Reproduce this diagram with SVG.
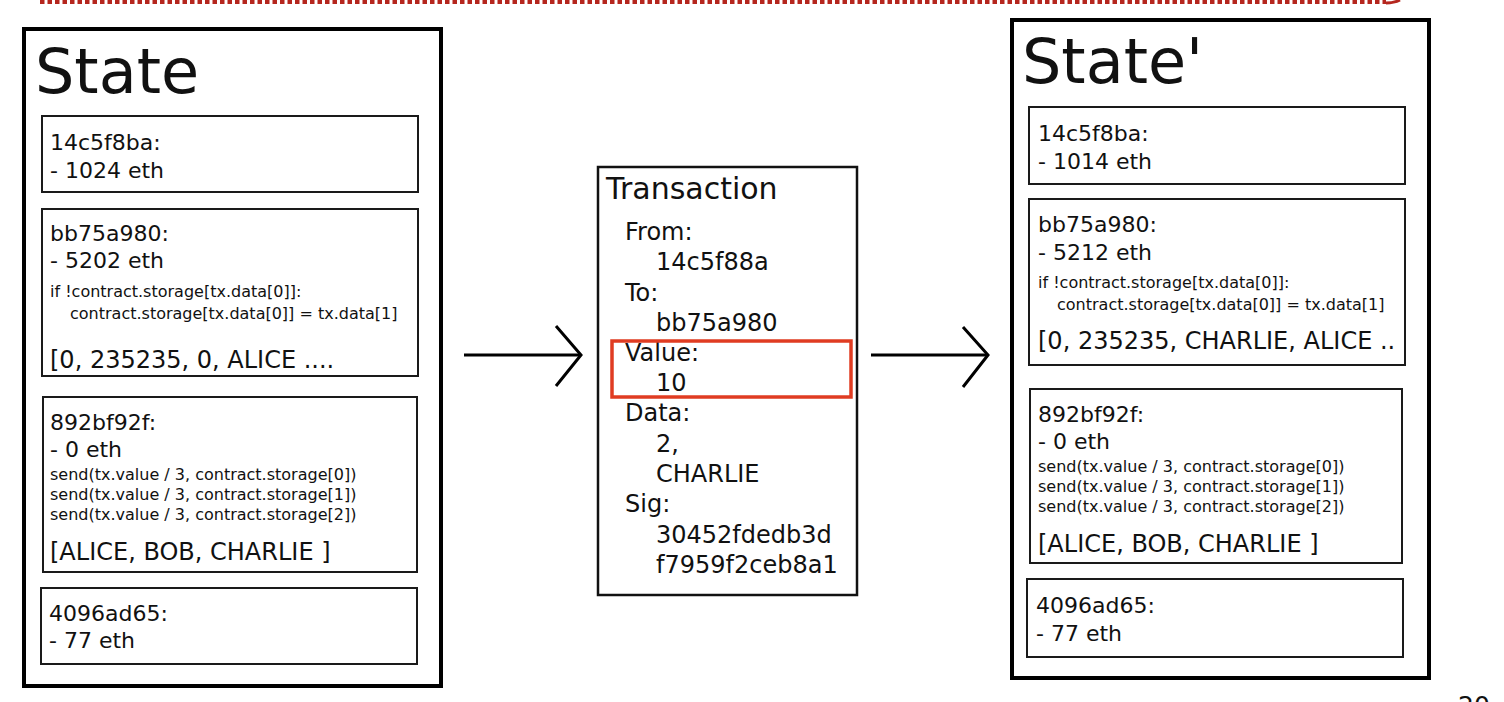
<svg xmlns="http://www.w3.org/2000/svg" width="1504" height="702" viewBox="0 0 1504 702">
<style>
  text { font-family: "DejaVu Sans", "Liberation Sans", sans-serif; fill: #111; }
  .outer { fill: #fff; stroke: #000; stroke-width: 4; }
  .inner { fill: #fff; stroke: #1a1a1a; stroke-width: 2; }
  .title { font-size: 62px; }
  .t22 { font-size: 22px; }
  .t24 { font-size: 24px; }
  .code { font-size: 16px; }
  .tx { font-size: 24px; }
  .conn { fill: none; stroke: #000; stroke-width: 3; }
</style>
<rect x="0" y="0" width="1504" height="702" fill="#fff"/>

<g id="top-rule">
  <line x1="40" y1="2" x2="1386" y2="2" stroke="#b5261e" stroke-width="4" stroke-dasharray="4.5 3"/>
  <path d="M1386 3 Q1394 3 1400 0" fill="none" stroke="#b5261e" stroke-width="3"/>
</g>

<g id="state">
  <rect class="outer" x="24" y="29" width="417" height="657"/>
  <text class="title" x="35" y="93">State</text>
  <g id="state-acct1">
    <rect class="inner" x="42" y="116" width="376" height="76"/>
    <text class="t22" x="50" y="150">14c5f8ba:</text>
    <text class="t22" x="50" y="178">- 1024 eth</text>
  </g>
  <g id="state-acct2">
    <rect class="inner" x="42" y="209" width="376" height="167"/>
    <text class="t22" x="50" y="241">bb75a980:</text>
    <text class="t22" x="50" y="268">- 5202 eth</text>
    <text class="code" x="50" y="297">if !contract.storage[tx.data[0]]:</text>
    <text class="code" x="70" y="319">contract.storage[tx.data[0]] = tx.data[1]</text>
    <text class="t24" x="50" y="368">[0, 235235, 0, ALICE ....</text>
  </g>
  <g id="state-acct3">
    <rect class="inner" x="43" y="397" width="374" height="175"/>
    <text class="t22" x="50" y="430">892bf92f:</text>
    <text class="t22" x="50" y="457">- 0 eth</text>
    <text class="code" x="50" y="480">send(tx.value / 3, contract.storage[0])</text>
    <text class="code" x="50" y="500">send(tx.value / 3, contract.storage[1])</text>
    <text class="code" x="50" y="520">send(tx.value / 3, contract.storage[2])</text>
    <text class="t24" x="50" y="560">[ALICE, BOB, CHARLIE ]</text>
  </g>
  <g id="state-acct4">
    <rect class="inner" x="41" y="588" width="376" height="76"/>
    <text class="t22" x="49" y="621">4096ad65:</text>
    <text class="t22" x="49" y="648">- 77 eth</text>
  </g>
</g>

<g id="transaction">
  <rect x="598" y="167" width="259" height="428" fill="#fff" stroke="#111" stroke-width="2.5"/>
  <text x="606" y="199" style="font-size:30px">Transaction</text>
  <text class="tx" x="625" y="240">From:</text>
  <text class="tx" x="656" y="270">14c5f88a</text>
  <text class="tx" x="625" y="301">To:</text>
  <text class="tx" x="656" y="331">bb75a980</text>
  <text class="tx" x="625" y="361">Value:</text>
  <text class="tx" x="656" y="391">10</text>
  <text class="tx" x="625" y="421">Data:</text>
  <text class="tx" x="656" y="452">2,</text>
  <text class="tx" x="656" y="482">CHARLIE</text>
  <text class="tx" x="625" y="512">Sig:</text>
  <text class="tx" x="656" y="543">30452fdedb3d</text>
  <text class="tx" x="656" y="573">f7959f2ceb8a1</text>
  <rect id="value-highlight" x="612" y="341" width="239" height="56" fill="none" stroke="#e03c22" stroke-width="3.5"/>
</g>

<g id="state-prime">
  <rect class="outer" x="1012" y="20" width="417" height="658"/>
  <text class="title" x="1022" y="83">State'</text>
  <g id="stateprime-acct1">
    <rect class="inner" x="1029" y="107" width="376" height="77"/>
    <text class="t22" x="1038" y="141">14c5f8ba:</text>
    <text class="t22" x="1038" y="169">- 1014 eth</text>
  </g>
  <g id="stateprime-acct2">
    <rect class="inner" x="1029" y="199" width="376" height="166"/>
    <text class="t22" x="1038" y="232">bb75a980:</text>
    <text class="t22" x="1038" y="260">- 5212 eth</text>
    <text class="code" x="1038" y="288">if !contract.storage[tx.data[0]]:</text>
    <text class="code" x="1057" y="310">contract.storage[tx.data[0]] = tx.data[1]</text>
    <text class="t24" x="1038" y="349">[0, 235235, CHARLIE, ALICE ..</text>
  </g>
  <g id="stateprime-acct3">
    <rect class="inner" x="1030" y="389" width="372" height="174"/>
    <text class="t22" x="1038" y="422">892bf92f:</text>
    <text class="t22" x="1038" y="449">- 0 eth</text>
    <text class="code" x="1038" y="472">send(tx.value / 3, contract.storage[0])</text>
    <text class="code" x="1038" y="492">send(tx.value / 3, contract.storage[1])</text>
    <text class="code" x="1038" y="512">send(tx.value / 3, contract.storage[2])</text>
    <text class="t24" x="1038" y="552">[ALICE, BOB, CHARLIE ]</text>
  </g>
  <g id="stateprime-acct4">
    <rect class="inner" x="1027" y="579" width="376" height="78"/>
    <text class="t22" x="1036" y="613">4096ad65:</text>
    <text class="t22" x="1036" y="641">- 77 eth</text>
  </g>
</g>

<g id="connectors">
  <line class="conn" x1="464" y1="355" x2="580" y2="355"/>
  <polyline class="conn" points="556,326 581,355 556,386"/>
  <line class="conn" x1="871" y1="355" x2="987" y2="355"/>
  <polyline class="conn" points="963,327 988,355 963,387"/>
</g>

<text x="1458" y="714" style="font-size:25px">20</text>
</svg>
